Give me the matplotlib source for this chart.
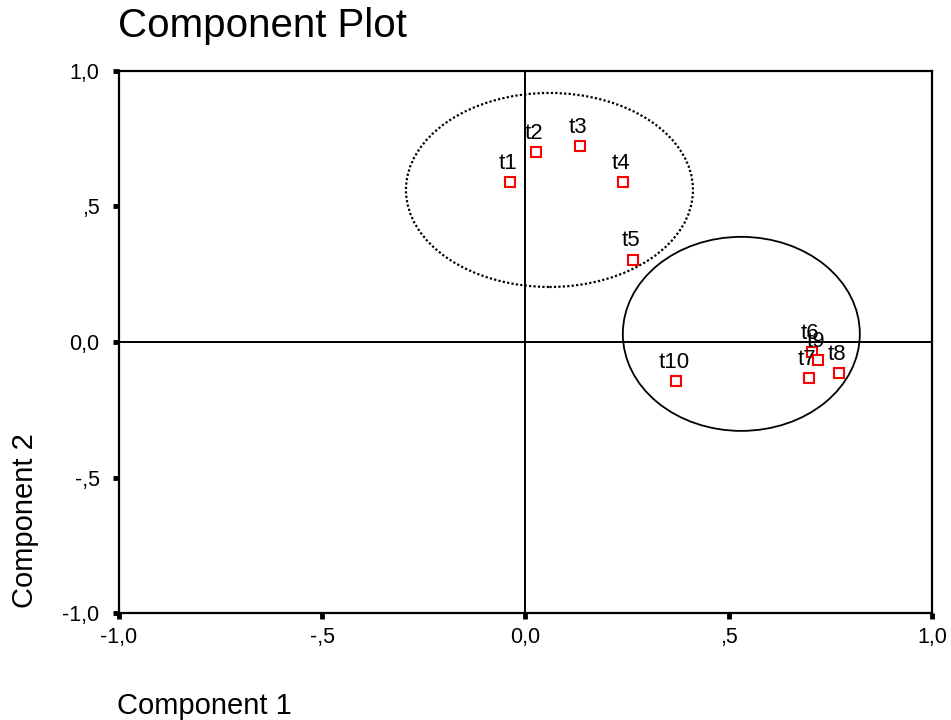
import matplotlib
matplotlib.use("Agg")
import matplotlib.pyplot as plt
from matplotlib.patches import Ellipse

plt.rcParams['font.family'] = ['Liberation Sans', 'DejaVu Sans']

labels = ["t1", "t2", "t3", "t4", "t5", "t6", "t7", "t8", "t9", "t10"]
comp1 = [-0.039, 0.027, 0.135, 0.241, 0.265, 0.705, 0.698, 0.771, 0.720, 0.371]
comp2 = [0.589, 0.700, 0.722, 0.589, 0.304, -0.037, -0.133, -0.115, -0.067, -0.144]

tick_vals = [-1.0, -0.5, 0.0, 0.5, 1.0]
tick_text = ["-1,0", "-,5", "0,0", ",5", "1,0"]

fig = plt.figure(figsize=(9.51, 7.2), dpi=100)
ax = fig.add_axes([0.1251, 0.1486, 0.8549, 0.7528])
ax.set_xlim(-1, 1)
ax.set_ylim(-1, 1)

# reference lines through the origin
ax.axhline(0, color="black", lw=1.4, zorder=1)
ax.axvline(0, color="black", lw=1.4, zorder=1)

# group outlines
ax.add_patch(Ellipse((0.059, 0.561), 0.706, 0.716, fill=False, ec="black",
                     lw=1.6, ls=(0, (1, 1)), zorder=2))
ax.add_patch(Ellipse((0.531, 0.030), 0.583, 0.716, fill=False, ec="black",
                     lw=1.3, zorder=2))

ax.plot(comp1, comp2, ls="none", marker="s", ms=7, mfc="white", mec="#ff0000",
        mew=1.5, zorder=3)
for lab, x, y in zip(labels, comp1, comp2):
    ax.annotate(lab, (x, y), xytext=(-1.5, 9.5), textcoords="offset points",
                ha="center", va="baseline", fontsize=16, zorder=4)

ax.set_xticks(tick_vals)
ax.set_xticklabels(tick_text)
ax.set_yticks(tick_vals)
ax.set_yticklabels(tick_text)
ax.tick_params(direction="out", length=4, width=3.5, labelsize=15.5)
ax.tick_params(axis="y", pad=10)
ax.tick_params(axis="x", pad=6)
for s in ax.spines.values():
    s.set_linewidth(1.6)

fig.text(0.124, 0.949, "Component Plot", fontsize=29, ha="left", va="baseline")
fig.text(0.123, 0.008, "Component 1", fontsize=21, ha="left", va="baseline")
fig.text(0.012, 0.156, "Component 2", fontsize=21, ha="left", va="bottom",
         rotation=90)

fig.savefig("out.png", dpi=100)
